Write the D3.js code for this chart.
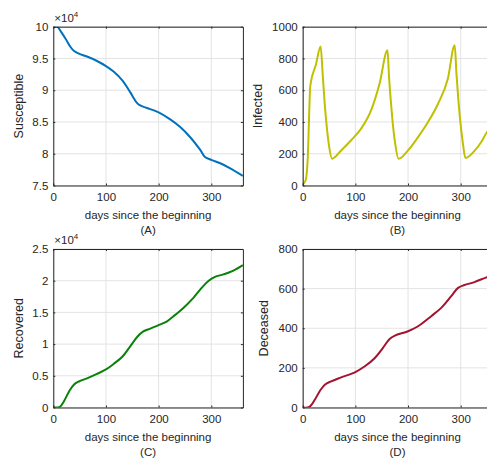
<!DOCTYPE html>
<html>
<head>
<meta charset="utf-8">
<script src="https://cdn.jsdelivr.net/npm/d3@7"></script>
<style>
body { margin: 0; background: #fff; }
text { font-family: "Liberation Sans", Arial, sans-serif; fill: #262626; }
</style>
</head>
<body>
<svg width="487" height="461"></svg>
<script>
// Susceptible (x1e4)
var daysS = [0, 7.6, 13.9, 23.3, 32.8, 39, 48.6, 64, 83, 100, 115, 131, 146, 158, 165, 178, 200, 222, 241, 260, 279, 288, 301, 317, 336, 360];
var susceptible = [10, 10, 9.93, 9.81, 9.68, 9.62, 9.575, 9.53, 9.46, 9.38, 9.29, 9.155, 8.97, 8.81, 8.76, 8.72, 8.65, 8.54, 8.42, 8.26, 8.06, 7.95, 7.90, 7.85, 7.77, 7.65];

// Infected
var daysI = [0, 5, 8, 10, 12, 14, 15, 25, 34, 38, 42, 46, 50, 55.7, 73, 92, 111, 130, 146, 161, 164, 168, 172, 176, 182, 200, 219, 238, 257, 275.6, 288.6, 292, 296, 300, 304, 309, 327, 339, 350, 360];
var infected = [8, 27, 90, 200, 420, 610, 640, 760, 876, 700, 505, 360, 250, 169, 221, 285, 358, 474, 642, 851, 680, 505, 360, 255, 169, 221, 305, 400, 515, 673, 883, 700, 520, 380, 270, 173, 221, 274, 337, 372];

// Recovered (x1e4)
var daysR = [0, 12.6, 20, 29.7, 39, 48.6, 64, 83, 100, 115, 131, 146, 160, 171, 184, 200, 216, 232, 247, 266, 282, 295, 307, 323, 342, 360];
var recovered = [0, 0.01, 0.095, 0.25, 0.36, 0.41, 0.46, 0.53, 0.60, 0.69, 0.80, 0.965, 1.12, 1.20, 1.245, 1.30, 1.36, 1.465, 1.57, 1.73, 1.89, 2.00, 2.06, 2.10, 2.16, 2.245];

// Deceased
var daysD = [0, 12.7, 23, 32, 42, 54, 73, 100, 118, 137, 152, 165, 175, 200, 219, 244, 263, 282, 295, 307, 326, 350, 360];
var deceased = [0, 3, 39, 81, 115, 132, 152, 179, 208, 250, 300, 346, 363, 385, 410, 461, 503, 562, 604, 618, 633, 658, 665];

var xTicks = [0, 100, 200, 300];

var svg = d3.select('svg');

function panel(cfg) {
  var xScale = d3.scaleLinear().domain([0, 360]).range([cfg.left, cfg.left + 189.6]);
  var yScale = d3.scaleLinear().domain(cfg.yDomain).range([cfg.bottom, cfg.top]);
  var g = svg.append('g');
  var id = 'clip' + cfg.tag.replace(/[()]/g, '');

  svg.append('clipPath').attr('id', id)
    .append('rect')
    .attr('x', cfg.left).attr('y', cfg.top)
    .attr('width', 189.6).attr('height', cfg.bottom - cfg.top);

  // grid
  g.selectAll('.gx').data(xTicks).enter().append('line')
    .attr('x1', d => xScale(d)).attr('x2', d => xScale(d))
    .attr('y1', cfg.top).attr('y2', cfg.bottom)
    .attr('stroke', '#e3e3e3').attr('stroke-width', 1);
  g.selectAll('.gy').data(cfg.yTicks).enter().append('line')
    .attr('x1', cfg.left).attr('x2', cfg.left + 189.6)
    .attr('y1', d => yScale(d)).attr('y2', d => yScale(d))
    .attr('stroke', '#e3e3e3').attr('stroke-width', 1);

  // line
  var line = d3.line()
    .x(d => xScale(d[0]))
    .y(d => yScale(d[1]))
    .curve(cfg.curve);
  g.append('path')
    .datum(cfg.days.map((d, i) => [d, cfg.values[i]]))
    .attr('clip-path', 'url(#' + id + ')')
    .attr('fill', 'none')
    .attr('stroke', cfg.color)
    .attr('stroke-width', 2)
    .attr('stroke-linejoin', 'round')
    .attr('d', line);

  // axes with inward ticks
  var xb = g.append('g').attr('transform', 'translate(0,' + cfg.bottom + ')')
    .call(d3.axisBottom(xScale).tickValues(xTicks).tickSizeInner(-2).tickSizeOuter(0).tickPadding(7));
  var xt = g.append('g').attr('transform', 'translate(0,' + cfg.top + ')')
    .call(d3.axisTop(xScale).tickValues(xTicks).tickSizeInner(-2).tickSizeOuter(0).tickFormat(''));
  var yl = g.append('g').attr('transform', 'translate(' + cfg.left + ',0)')
    .call(d3.axisLeft(yScale).tickValues(cfg.yTicks).tickSizeInner(-2).tickSizeOuter(0).tickPadding(5).tickFormat(cfg.fmt));
  var yr = g.append('g').attr('transform', 'translate(' + (cfg.left + 189.6) + ',0)')
    .call(d3.axisRight(yScale).tickValues(cfg.yTicks).tickSizeInner(-2).tickSizeOuter(0).tickFormat(''));
  [xb, xt, yl, yr].forEach(function(a) {
    a.select('.domain').attr('stroke', '#262626').attr('stroke-width', 1);
    a.selectAll('.tick line').attr('stroke', '#262626');
    a.selectAll('text').style('font-family', '"Liberation Sans", Arial, sans-serif')
      .attr('font-size', 11.5).attr('fill', '#262626');
  });

  // labels
  g.append('text')
    .attr('x', cfg.left + 94.8).attr('y', cfg.bottom + 33)
    .attr('text-anchor', 'middle').attr('font-size', 11.5)
    .text('days since the beginning');
  g.append('text')
    .attr('x', cfg.left + 94.8).attr('y', cfg.bottom + 48)
    .attr('text-anchor', 'middle').attr('font-size', 11.5)
    .text(cfg.tag);
  g.append('text')
    .attr('transform', 'translate(' + cfg.ylabelX + ',' + ((cfg.top + cfg.bottom) / 2) + ') rotate(-90)')
    .attr('text-anchor', 'middle').attr('font-size', 12.5)
    .text(cfg.ylabel);

  if (cfg.exp) {
    var e = g.append('text').attr('x', cfg.left + 1).attr('y', cfg.top - 5).attr('font-size', 11.5);
    e.append('tspan').text('\u00d710');
    e.append('tspan').attr('dy', -5).attr('font-size', 8).text('4');
  }
}

var smooth = d3.curveCatmullRom.alpha(0.5);

panel({ tag: '(A)', left: 53.3, top: 26.7, bottom: 185.5, yDomain: [7.5, 10], yTicks: [7.5, 8, 8.5, 9, 9.5, 10],
  fmt: d3.format('~g'), days: daysS, values: susceptible, color: '#0072BD', ylabel: 'Susceptible', ylabelX: 23, exp: true, curve: smooth });
panel({ tag: '(B)', left: 302.7, top: 26.7, bottom: 185.5, yDomain: [0, 1000], yTicks: [0, 200, 400, 600, 800, 1000],
  fmt: d3.format('d'), days: daysI, values: infected, color: '#C0C000', ylabel: 'Infected', ylabelX: 262, exp: false, curve: d3.curveMonotoneX });
panel({ tag: '(C)', left: 53.3, top: 249, bottom: 407.5, yDomain: [0, 2.5], yTicks: [0, 0.5, 1, 1.5, 2, 2.5],
  fmt: d3.format('~g'), days: daysR, values: recovered, color: '#0A820A', ylabel: 'Recovered', ylabelX: 23, exp: true, curve: smooth });
panel({ tag: '(D)', left: 302.7, top: 249, bottom: 407.5, yDomain: [0, 800], yTicks: [0, 200, 400, 600, 800],
  fmt: d3.format('d'), days: daysD, values: deceased, color: '#A2142F', ylabel: 'Deceased', ylabelX: 268, exp: false, curve: smooth });
</script>
</body>
</html>
